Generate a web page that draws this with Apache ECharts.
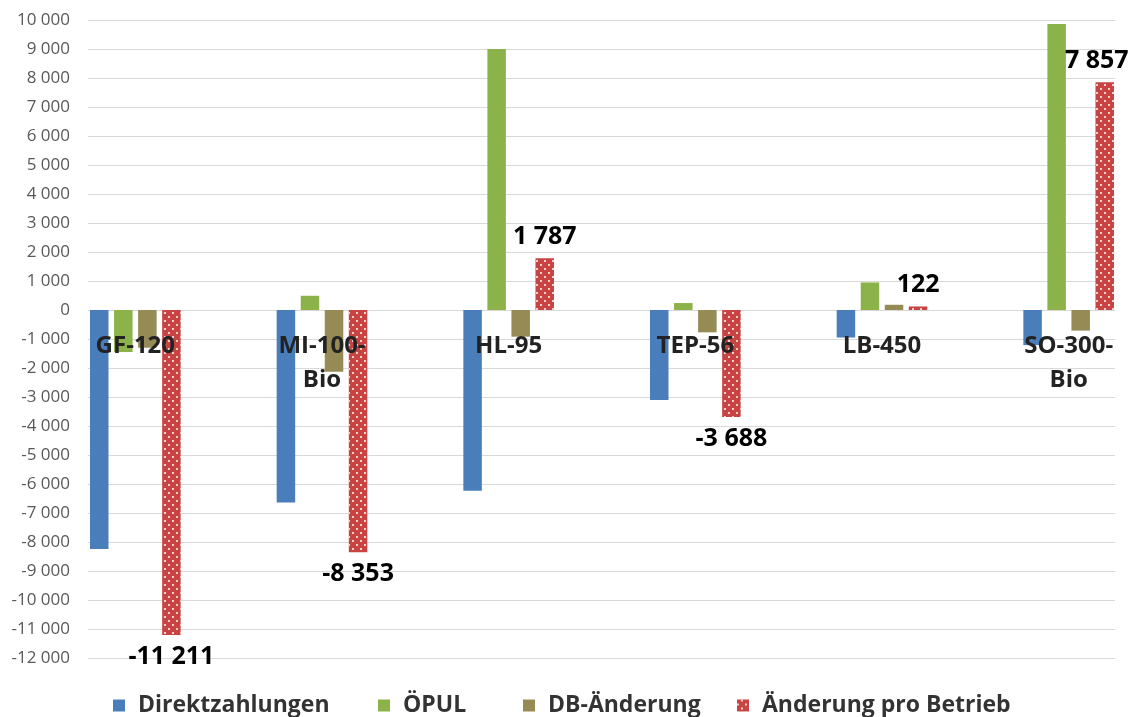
<!DOCTYPE html>
<html>
<head>
<meta charset="utf-8">
<script src="https://cdn.jsdelivr.net/npm/echarts@6/dist/echarts.min.js"></script>
<style>
  html, body { margin: 0; padding: 0; background: #ffffff; }
  #chart { width: 1131px; height: 717px; }
</style>
</head>
<body>
<div id="chart"></div>
<script>
// Betriebe (Kategorien)
const categories = ['GF-120', 'MI-100-\nBio', 'HL-95', 'TEP-56', 'LB-450', 'SO-300-\nBio'];

// Werte in Euro je Betrieb
const direktzahlungen = [-8240, -6640, -6230, -3100, -950, -1210];
const oepul = [-1450, 490, 9000, 240, 950, 9860];
const dbAenderung = [-1300, -2130, -920, -770, 180, -710];
const aenderungProBetrieb = [-11211, -8353, 1787, -3688, 122, 7857];

const seriesNames = ['Direktzahlungen', 'ÖPUL', 'DB-Änderung', 'Änderung pro Betrieb'];
const seriesColors = ['#4a7ebb', '#8cb34a', '#968b55', '#c84442'];
const legendLeft = [113, 378, 523, 737];

const yMin = -12000, yMax = 10000, yStep = 1000;

const fmt = v => {
  const s = String(Math.abs(v)).replace(/\B(?=(\d{3})+(?!\d))/g, ' ');
  return (v < 0 ? '-' : '') + s;
};

const FONT = '"Open Sans", "DejaVu Sans", sans-serif';

function barSeries(idx, values, extra) {
  return Object.assign({
    name: seriesNames[idx],
    type: 'bar',
    xAxisIndex: 1,
    yAxisIndex: 1,
    barWidth: 18.5,
    barGap: '30%',
    itemStyle: { color: seriesColors[idx] },
    data: values
  }, extra || {});
}

// Gesamtänderung: Werte beschriftet, unter bzw. über dem Balkenende
const totalData = aenderungProBetrieb.map((v, i) => ({
  value: v,
  label: {
    position: v < 0 ? 'bottom' : 'top',
    offset: i === aenderungProBetrieb.length - 1 ? [-8, 0] : [0, 0]
  }
}));

// Betriebsnamen direkt unter der Nulllinie
const nameAnchors = categories.map(c => [c, 0]);

const legends = seriesNames.map((name, i) => ({
  left: legendLeft[i], bottom: 0, padding: 0,
  itemWidth: 12, itemHeight: 12,
  icon: 'rect',
  textStyle: {
    fontFamily: FONT, fontSize: 23, fontWeight: 'bold',
    color: '#333333', padding: [0, 0, 0, 8]
  },
  data: [name]
}));

const option = {
  animation: false,
  backgroundColor: '#ffffff',
  textStyle: { fontFamily: FONT },
  grid: [
    { left: 88, right: 16, top: 20, bottom: 59, outerBoundsMode: 'none', containLabel: false },
    { left: 42, right: -31, top: 20, bottom: 59, outerBoundsMode: 'none', containLabel: false }
  ],
  xAxis: [
    { type: 'value', gridIndex: 0, show: false, min: 0, max: 1 },
    {
      type: 'category', gridIndex: 1, data: categories,
      axisLine: { show: false }, axisTick: { show: false },
      axisLabel: { show: false }
    }
  ],
  yAxis: [
    {
      type: 'value', gridIndex: 0, min: yMin, max: yMax, interval: yStep,
      axisLine: { show: false }, axisTick: { show: false },
      splitLine: { lineStyle: { color: '#d9d9d9', width: 1 } },
      axisLabel: {
        margin: 18, formatter: fmt,
        fontFamily: FONT, fontSize: 17, color: '#595959'
      }
    },
    {
      type: 'value', gridIndex: 1, min: yMin, max: yMax, interval: yStep,
      axisLine: { show: false }, axisTick: { show: false },
      axisLabel: { show: false }, splitLine: { show: false }
    }
  ],
  legend: legends,
  series: [
    barSeries(0, direktzahlungen),
    barSeries(1, oepul),
    barSeries(2, dbAenderung),
    barSeries(3, totalData, {
      itemStyle: {
        color: seriesColors[3],
        decal: {
          symbol: 'rect',
          symbolSize: 1,
          color: 'rgba(255,255,255,0.75)',
          dashArrayX: [[1.5, 5.5], [0, 3.5, 1.5, 2]],
          dashArrayY: [1.5, 1.6]
        }
      },
      label: {
        show: true,
        formatter: p => fmt(p.value),
        fontFamily: FONT, fontSize: 25, fontWeight: 'bold',
        color: '#000000', distance: 9
      }
    }),
    {
      name: 'Betrieb',
      type: 'scatter',
      xAxisIndex: 1,
      yAxisIndex: 1,
      symbolSize: 0,
      silent: true,
      z: 10,
      itemStyle: { opacity: 1 },
      data: nameAnchors,
      label: {
        show: true,
        position: 'bottom',
        distance: 19,
        formatter: p => p.value[0],
        fontFamily: FONT, fontSize: 24, fontWeight: 'bold',
        color: '#222222', opacity: 1, lineHeight: 34, align: 'center'
      }
    }
  ]
};

const chart = echarts.init(document.getElementById('chart'), null, { renderer: 'canvas' });
chart.setOption(option);
</script>
</body>
</html>
